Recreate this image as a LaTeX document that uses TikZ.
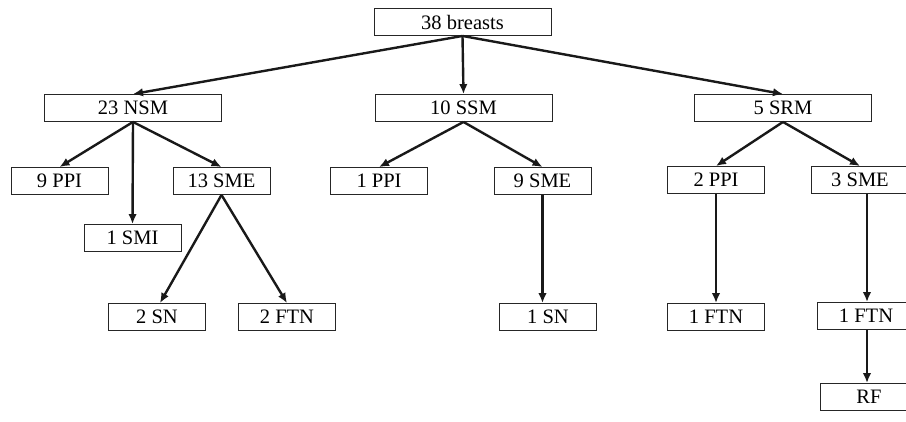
\documentclass[tikz,border=0pt]{standalone}
\usepackage{fontspec}
\setmainfont{Liberation Serif}
\usetikzlibrary{arrows.meta}
\begin{document}
\begin{tikzpicture}[x=1pt,y=-1pt,
  box/.style={draw=black!85,line width=0.9pt,minimum height=27pt,inner sep=0pt,font=\fontsize{20.5}{21}\selectfont,fill=white},
  w97/.style={minimum width=97pt},
  w176/.style={minimum width=177pt},
  link/.style={line width=2.4pt,black!90,-{Latex[length=10pt,width=8.5pt]}}]
\clip (0,0) rectangle (906,421);
\node[box,w176] (b38) at (462.5,22) {38 breasts};
\node[box,w176] (nsm) at (133,108) {23 NSM};
\node[box,w176] (ssm) at (463.5,108) {10 SSM};
\node[box,w176] (srm) at (783,108) {5 SRM};
\node[box,w97] (ppi9) at (59.5,181) {9 PPI};
\node[box,w97] (sme13) at (221.5,181) {13 SME};
\node[box,w97] (smi1) at (132.5,238) {1 SMI};
\node[box,w97] (sn2) at (157,317) {2 SN};
\node[box,w97] (ftn2) at (287,317) {2 FTN};
\node[box,w97] (ppi1) at (379,181) {1 PPI};
\node[box,w97] (sme9) at (542.5,181) {9 SME};
\node[box,w97] (sn1) at (548,317) {1 SN};
\node[box,w97] (ppi2) at (716,180) {2 PPI};
\node[box,w97] (sme3) at (860,180) {3 SME};
\node[box,w97] (ftn1a) at (716,317) {1 FTN};
\node[box,w97] (ftn1b) at (866,316) {1 FTN};
\node[box,w97] (rf) at (869,397) {RF};
\coordinate (vx) at (867,0);
\draw[link] (b38.south) -- (nsm.north);
\draw[link] (b38.south) -- (ssm.north);
\draw[link] (b38.south) -- (srm.north);
\draw[link] (nsm.south) -- (ppi9.north);
\draw[link] (nsm.south) -- (smi1.north);
\draw[link] (nsm.south) -- (sme13.north);
\draw[link] (sme13.south) -- ([xshift=3pt]sn2.north);
\draw[link] (sme13.south) -- (ftn2.north);
\draw[link] (ssm.south) -- (ppi1.north);
\draw[link] (ssm.south) -- (sme9.north);
\draw[link] (sme9.south) -- (sme9.south |- sn1.north);
\draw[link] (srm.south) -- (ppi2.north);
\draw[link] (srm.south) -- (sme3.north);
\draw[link] (ppi2.south) -- (ftn1a.north);
\draw[link] (sme3.south -| vx) -- (ftn1b.north -| vx);
\draw[link] (ftn1b.south -| vx) -- (rf.north -| vx);
\end{tikzpicture}
\end{document}
